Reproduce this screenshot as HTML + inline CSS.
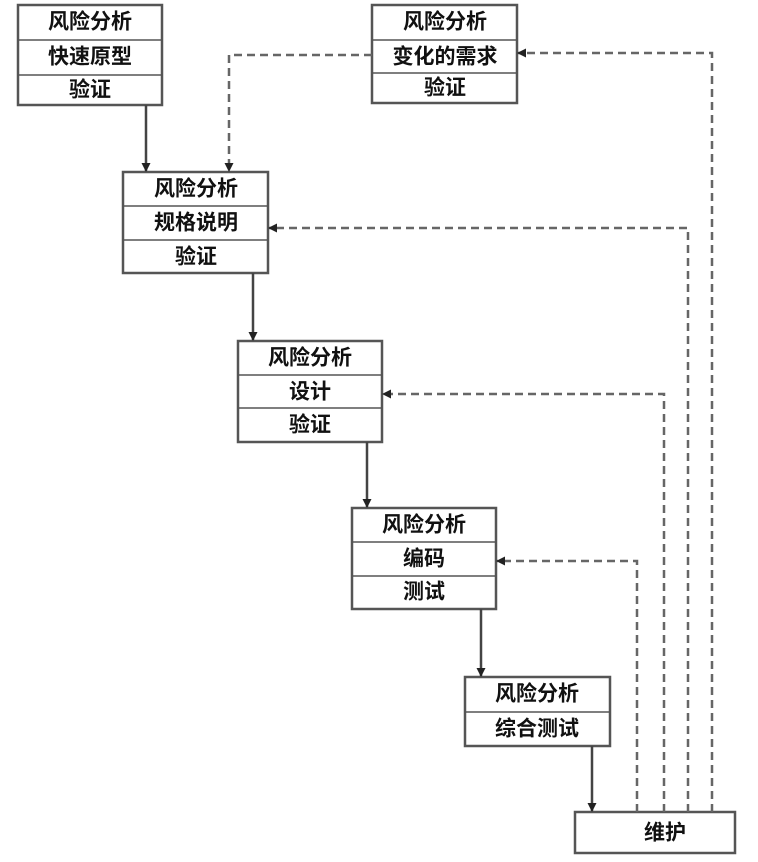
<!DOCTYPE html>
<html><head><meta charset="utf-8"><style>
html,body{margin:0;padding:0;background:#fff;}
svg{display:block;}
text{font-family:"Liberation Sans","Noto Sans CJK SC",sans-serif;font-size:21px;font-weight:bold;fill:#111;text-anchor:middle;dominant-baseline:central;}
.b{fill:#fff;stroke:#555;stroke-width:2.5;}
.l{stroke:#555;stroke-width:1.5;}
.a{stroke:#444;stroke-width:2.5;fill:none;}
.d{stroke:#666;stroke-width:2.5;fill:none;stroke-dasharray:8,5;}
</style></head><body>
<svg width="758" height="862" viewBox="0 0 758 862">
<defs><marker id="m" markerWidth="9" markerHeight="9" refX="8" refY="4.5" orient="auto" markerUnits="userSpaceOnUse"><path d="M0,0 L9,4.5 L0,9z" fill="#222"/></marker></defs>
<rect class="b" x="18" y="5" width="144" height="100"/><line class="l" x1="18" y1="40" x2="162" y2="40"/><line class="l" x1="18" y1="75" x2="162" y2="75"/>
<text x="90" y="22">风险分析</text><text x="90" y="57">快速原型</text><text x="90" y="90">验证</text>
<rect class="b" x="372" y="5" width="145" height="98"/><line class="l" x1="372" y1="40" x2="517" y2="40"/><line class="l" x1="372" y1="73" x2="517" y2="73"/>
<text x="445" y="22">风险分析</text><text x="445" y="57">变化的需求</text><text x="445" y="88">验证</text>
<rect class="b" x="123" y="172" width="145" height="101"/><line class="l" x1="123" y1="206" x2="268" y2="206"/><line class="l" x1="123" y1="240" x2="268" y2="240"/>
<text x="196" y="189">风险分析</text><text x="196" y="223">规格说明</text><text x="196" y="257">验证</text>
<rect class="b" x="238" y="341" width="144" height="101"/><line class="l" x1="238" y1="375" x2="382" y2="375"/><line class="l" x1="238" y1="408" x2="382" y2="408"/>
<text x="310" y="358">风险分析</text><text x="310" y="392">设计</text><text x="310" y="425">验证</text>
<rect class="b" x="352" y="508" width="144" height="101"/><line class="l" x1="352" y1="542" x2="496" y2="542"/><line class="l" x1="352" y1="576" x2="496" y2="576"/>
<text x="424" y="525">风险分析</text><text x="424" y="559">编码</text><text x="424" y="592">测试</text>
<rect class="b" x="465" y="677" width="145" height="69"/><line class="l" x1="465" y1="712" x2="610" y2="712"/>
<text x="537" y="694">风险分析</text><text x="537" y="729">综合测试</text>
<rect class="b" x="575" y="812" width="160" height="41"/>
<text x="665" y="833">维护</text>
<line class="a" x1="146" y1="105" x2="146" y2="171" marker-end="url(#m)"/>
<line class="a" x1="253" y1="273" x2="253" y2="340" marker-end="url(#m)"/>
<line class="a" x1="367" y1="442" x2="367" y2="507" marker-end="url(#m)"/>
<line class="a" x1="481" y1="609" x2="481" y2="676" marker-end="url(#m)"/>
<line class="a" x1="592" y1="746" x2="592" y2="811" marker-end="url(#m)"/>
<polyline class="d" points="372,55 229,55 229,171" marker-end="url(#m)"/>
<polyline class="d" points="712,812 712,53 518,53" marker-end="url(#m)"/>
<polyline class="d" points="688,812 688,228 269,228" marker-end="url(#m)"/>
<polyline class="d" points="664,812 664,394 383,394" marker-end="url(#m)"/>
<polyline class="d" points="637,812 637,561 497,561" marker-end="url(#m)"/>
</svg>
</body></html>
